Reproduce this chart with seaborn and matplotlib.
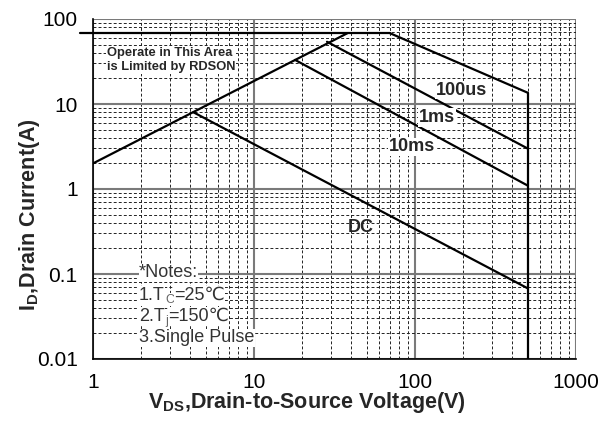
import matplotlib
matplotlib.use("Agg")
import matplotlib.pyplot as plt
import seaborn as sns
import numpy as np
from matplotlib.ticker import LogLocator, NullFormatter, FixedLocator, FixedFormatter

# ---- data ----
rds_v = [1, 38]
rds_i = [2, 68]
limit_v = [0.83, 70]
limit_i = [68, 68]
us100_v = [70, 500]
us100_i = [68, 13.6]
ms1_v = [28.4, 500]
ms1_i = [54, 3.0]
ms10_v = [18, 500]
ms10_i = [33, 1.1]
dc_v = [4.2, 500]
dc_i = [8, 0.068]
vmax_v = [500, 500]
vmax_i = [0.01, 13.6]

x_ticks = [1, 10, 100, 1000]
x_ticklabels = ["1", "10", "100", "1000"]
y_ticks = [0.01, 0.1, 1, 10, 100]
y_ticklabels = ["0.01", "0.1", "1", "10", "100"]

sns.set_style("white")
plt.rcParams['font.family'] = ['Liberation Sans', 'DejaVu Sans', 'Noto Sans CJK SC']
plt.rcParams['mathtext.fontset'] = 'custom'
plt.rcParams['mathtext.rm'] = 'Liberation Sans'
plt.rcParams['mathtext.bf'] = 'Liberation Sans:bold'

fig = plt.figure(figsize=(6.02, 4.26), dpi=100)
ax = fig.add_axes([93/602, 1-359/426, (576-93)/602, (359-19)/426])

ax.set_xscale('log')
ax.set_yscale('log')
ax.set_xlim(1, 1000)
ax.set_ylim(0.01, 100)

lw = 1.6
for xs, ys in [(rds_v, rds_i), (us100_v, us100_i), (ms1_v, ms1_i),
               (ms10_v, ms10_i), (dc_v, dc_i), (vmax_v, vmax_i)]:
    sns.lineplot(x=xs, y=ys, ax=ax, color='black', linewidth=lw, zorder=5,
                 estimator=None, sort=False)
sns.lineplot(x=limit_v, y=limit_i, ax=ax, color='black', linewidth=lw,
             zorder=5, estimator=None, sort=False)
ax.lines[-1].set_clip_on(False)

# grid / ticks
ax.xaxis.set_major_locator(FixedLocator(x_ticks))
ax.xaxis.set_major_formatter(FixedFormatter(x_ticklabels))
ax.yaxis.set_major_locator(FixedLocator(y_ticks))
ax.yaxis.set_major_formatter(FixedFormatter(y_ticklabels))
ax.xaxis.set_minor_locator(LogLocator(base=10, subs=np.arange(2, 10), numticks=20))
ax.yaxis.set_minor_locator(LogLocator(base=10, subs=np.arange(2, 10), numticks=20))
ax.xaxis.set_minor_formatter(NullFormatter())
ax.yaxis.set_minor_formatter(NullFormatter())
ax.grid(which='major', color='#7a7a7a', linewidth=1.5, linestyle='-', zorder=1)
ax.grid(which='minor', color='#222222', linewidth=0.7, linestyle=(0, (3, 2.2)), zorder=1)
ax.set_axisbelow(True)

for s in ['top', 'right']:
    ax.spines[s].set_visible(False)
for s in ['left', 'bottom']:
    ax.spines[s].set_color('black')
    ax.spines[s].set_linewidth(1.2)

ax.tick_params(which='major', direction='out', length=5, width=1, labelsize=15,
               colors='black')
ax.tick_params(axis='x', which='major', pad=5)
ax.tick_params(axis='y', which='major', pad=6)
ax.tick_params(which='minor', direction='out', length=3, width=0.8, colors='#444444')

ax.set_xlabel(r"V$_\mathregular{DS}$,Drain-to-Source Voltage(V)", fontsize=15.5,
              fontweight='bold')
ax.set_ylabel(r"I$_\mathregular{D}$,Drain Current(A)", fontsize=15.5,
              fontweight='bold')
ax.xaxis.set_label_coords((307-93)/483, -(390-359)/340)
ax.yaxis.set_label_coords((42-93)/483, (359-215)/340)

box = dict(facecolor='white', edgecolor='none', pad=0.6)
ax.text(1.22, 33, "Operate in This Area\nis Limited by RDSON", fontsize=9.3,
        fontweight='bold', ha='left', va='center', linespacing=1.2,
        bbox=box, zorder=6)
ax.text(135, 14.6, "100us", fontsize=13, fontweight='bold', ha='left',
        va='center', bbox=box, zorder=6)
ax.text(106, 7.0, "1ms", fontsize=13, fontweight='bold', ha='left',
        va='center', bbox=box, zorder=6)
ax.text(69, 3.12, "10ms", fontsize=13, fontweight='bold', ha='left',
        va='center', bbox=box, zorder=6)
ax.text(38.4, 0.35, "DC", fontsize=13, fontweight='bold', ha='left',
        va='center', zorder=6)

# notes (built piecewise for subscripts and the Celsius sign)
ncol = '#333333'
nfs = 13
nbox = dict(facecolor='white', edgecolor='none', pad=0.2)
fam = ['Liberation Sans', 'DejaVu Sans', 'Noto Sans CJK SC']
note_x = 1.93
ax.text(note_x, 0.103, "*Notes:", fontsize=nfs, color=ncol, ha='left',
        va='center', bbox=nbox, zorder=6, family=fam)


def sub_line(y, pre, sub, post):
    t1 = ax.text(note_x, y, pre, fontsize=nfs, color=ncol, ha='left',
                 va='center', bbox=nbox, zorder=6, family=fam)
    t2 = ax.annotate(sub, xy=(1, 0), xycoords=t1, xytext=(0.2, -1.5),
                     textcoords='offset points', fontsize=9, color='#666666',
                     ha='left', va='bottom', zorder=6, family=fam,
                     bbox=dict(facecolor='white', edgecolor='none', pad=0.1))
    ax.annotate(post, xy=(1, 0.5), xycoords=(t2, t1), xytext=(0.2, 0),
                textcoords='offset points', fontsize=nfs, color=ncol,
                ha='left', va='center', zorder=6, family=fam, bbox=nbox)


sub_line(0.0566, "1.T", "C", "=25\u2103")
sub_line(0.032, "2.T", "j", "=150\u2103")
ax.text(note_x, 0.0177, "3.Single Pulse", fontsize=nfs, color=ncol, ha='left',
        va='center', bbox=nbox, zorder=6, family=fam)

fig.savefig("out.png", dpi=100)
